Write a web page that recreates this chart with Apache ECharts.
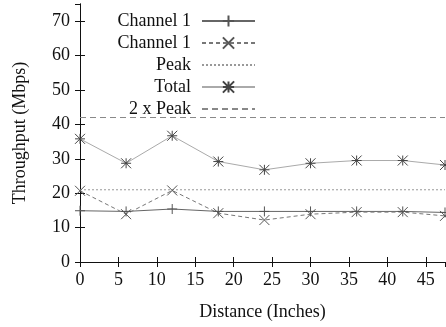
<!DOCTYPE html>
<html><head><meta charset="utf-8">
<script src="https://cdn.jsdelivr.net/npm/echarts@6/dist/echarts.min.js"></script>
<style>html,body{margin:0;padding:0;background:#fff}#c{width:446px;height:327px}</style>
</head><body><div id="c"></div>
<script>
const distances = [0, 6, 12, 18, 24, 30, 36, 42, 47.5];
const channel1 = [14.9, 14.7, 15.4, 14.7, 14.7, 14.7, 14.7, 14.7, 14.4];
const channel1b = [20.7, 13.9, 20.8, 14.2, 12.2, 13.9, 14.5, 14.5, 13.4];
const total = [35.8, 28.7, 36.7, 29.2, 26.8, 28.7, 29.5, 29.5, 28.2];
const peak = 21;
const doublePeak = 42;
const seriesNames = ['Channel 1', 'Channel 1 ', 'Peak', 'Total', '2 x Peak'];
const xRange = [0, 47.5];
const yRange = [0, 75];

const FONT = 'Liberation Serif';
const pair = (xs, ys) => xs.map((x, i) => [x, ys[i]]);
const hline = v => xRange.map(x => [x, v]);

const PLUS = 'path://M0,5L10,5M5,0L5,10';
const CROSS = 'path://M0,0L10,10M10,0L0,10';
const STAR = 'path://M0,0L10,10M10,0L0,10M0,5L10,5M5,0L5,10';

const axisCommon = {
  axisLine: {show: true, lineStyle: {color: '#111', width: 1}},
  axisTick: {show: true, inside: true, length: 5, lineStyle: {color: '#111'}},
  splitLine: {show: false}
};

const chart = echarts.init(document.getElementById('c'), null, {renderer: 'canvas'});
chart.setOption({
  animation: false,
  backgroundColor: '#fff',
  textStyle: {fontFamily: FONT},
  grid: {left: 80, top: 4, right: 1, bottom: 65, containLabel: false},
  legend: {
    orient: 'vertical', align: 'right', left: 111, top: 12, padding: 0,
    itemWidth: 53, itemHeight: 14, itemGap: 4,
    data: seriesNames,
    formatter: n => n.trim(),
    textStyle: {fontFamily: FONT, fontSize: 18, color: '#111', width: 80, align: 'right', padding: [0, 6, 0, 0], lineHeight: 18}
  },
  xAxis: [
    Object.assign({}, axisCommon, {
      type: 'value', min: xRange[0], max: xRange[1], interval: 5, position: 'bottom',
      name: 'Distance (Inches)', nameLocation: 'middle', nameGap: 41,
      nameTextStyle: {fontFamily: FONT, fontSize: 18, color: '#111'},
      axisLabel: {fontFamily: FONT, fontSize: 18, color: '#111', margin: 9, showMaxLabel: false}
    }),
    Object.assign({}, axisCommon, {
      type: 'value', min: xRange[0], max: xRange[1], interval: 5, position: 'top',
      axisLabel: {show: false}
    })
  ],
  yAxis: [
    Object.assign({}, axisCommon, {
      type: 'value', min: yRange[0], max: yRange[1], interval: 10, position: 'left',
      name: 'Throughput (Mbps)', nameLocation: 'middle', nameGap: 51,
      nameTextStyle: {fontFamily: FONT, fontSize: 18, color: '#111'},
      axisLabel: {fontFamily: FONT, fontSize: 18, color: '#111', margin: 10, showMaxLabel: false}
    }),
    Object.assign({}, axisCommon, {
      type: 'value', min: yRange[0], max: yRange[1], interval: 10, position: 'right',
      axisLabel: {show: false}
    })
  ],
  series: [
    {name: seriesNames[0], type: 'line', data: pair(distances, channel1),
     symbol: PLUS, symbolSize: 10, showSymbol: true,
     lineStyle: {color: '#666', width: 1, type: 'solid'},
     itemStyle: {color: 'transparent', borderColor: '#555', borderWidth: 1}},
    {name: seriesNames[1], type: 'line', data: pair(distances, channel1b),
     symbol: CROSS, symbolSize: 10,
     lineStyle: {color: '#777', width: 1, type: [4, 3]},
     itemStyle: {color: 'transparent', borderColor: '#555', borderWidth: 1}},
    {name: seriesNames[2], type: 'line', data: hline(peak), symbol: 'none',
     lineStyle: {color: '#999', width: 1, type: [2, 2]},
     itemStyle: {color: 'transparent', borderColor: 'transparent', borderWidth: 0}},
    {name: seriesNames[3], type: 'line', data: pair(distances, total),
     symbol: STAR, symbolSize: 10,
     lineStyle: {color: '#aaa', width: 1, type: 'solid'},
     itemStyle: {color: 'transparent', borderColor: '#444', borderWidth: 1}},
    {name: seriesNames[4], type: 'line', data: hline(doublePeak), symbol: 'none',
     lineStyle: {color: '#888', width: 1, type: [6, 4]},
     itemStyle: {color: 'transparent', borderColor: 'transparent', borderWidth: 0}}
  ]
});
</script></body></html>
